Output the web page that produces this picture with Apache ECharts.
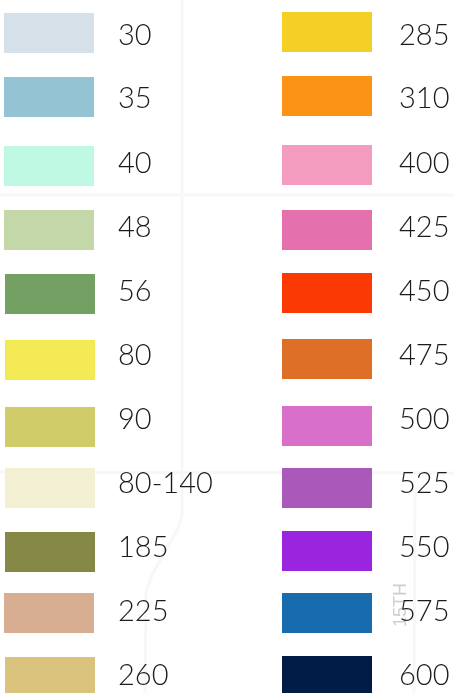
<!DOCTYPE html>
<html>
<head>
<meta charset="utf-8">
<style>html,body{margin:0;padding:0;background:#fff;overflow:hidden}#c{width:454px;height:693px}</style>
<script src="https://cdn.jsdelivr.net/npm/echarts@6/dist/echarts.min.js"></script>
</head>
<body>
<div id="c"></div>
<script>
// Legend categories
var leftLabels = ['30','35','40','48','56','80','90','80-140','185','225','260'];
var rightLabels = ['285','310','400','425','450','475','500','525','550','575','600'];
// Swatch colours
var leftColors = ['#d6e0e8','#94c3d3','#c0f9e3','#c3d7a9','#75a064','#f4ea55','#d1cc6a','#f4f0d3','#868845','#d8ae92','#dac37c'];
var rightColors = ['#f4d026','#fb9316','#f49cbf','#e570ae','#fa3905','#dd6f26','#d86fc9','#aa58ba','#9b25de','#186bac','#001b45'];
// Row positions, on the y axis (0 at the top)
var leftRows = [33,97,166,230,294,360,427,488,552,613,677];
var rightRows = [32,96,165,230,293,359,426,488,551,613,676];
var leftColumn = [49,49,49,49,50,50,50,50,50,49,50];
var rightColumn = 327;
var textRows = [35.5,99,163.5,228,292,356,420,484,548,612,676];
// Faint base-map roads
var roadA = [[0,195],[454,195]];
var roadB = [[0,472],[454,473]];
var roadC = [[182,0],[182,516],[178,528],[152,575],[146,592],[145,693]];
var roadD = [[415,488],[414,693]];

function swatches(rows, colors, xs){
  return rows.map(function(y,i){
    return {value:[Array.isArray(xs)?xs[i]:xs, y], itemStyle:{color:colors[i],opacity:1}};
  });
}
function texts(labels, x){
  return labels.map(function(t,i){
    return {value:[x, textRows[i]], label:{formatter:t}};
  });
}
function road(d){
  return {type:'line',data:d,symbol:'none',silent:true,z:1,
    lineStyle:{color:'#f7f7f7',width:3}};
}
var rectSeries = function(d){
  return {type:'scatter',data:d,symbol:'rect',symbolSize:[90,40],silent:true,z:3,clip:true};
};
var textSeries = function(d){
  return {type:'scatter',data:d,symbolSize:0,silent:true,z:4,itemStyle:{opacity:1},
    label:{show:true,position:'inside',align:'left',verticalAlign:'middle',
      fontFamily:'Lato',fontWeight:300,fontSize:29,color:'#1c1c1c'}};
};
var chart = echarts.init(document.getElementById('c'),null,{renderer:'canvas'});
chart.setOption({
  animation:false,
  backgroundColor:'#ffffff',
  grid:{left:0,right:0,top:0,bottom:0},
  xAxis:{type:'value',min:0,max:454,show:false},
  yAxis:{type:'value',min:0,max:693,inverse:true,show:false},
  series:[
    road(roadA),road(roadB),road(roadC),road(roadD),
    {type:'scatter',data:[{value:[401,605]}],symbolSize:0,silent:true,z:2,itemStyle:{opacity:1},
      label:{show:true,position:'inside',formatter:'15TH',rotate:90,align:'center',verticalAlign:'middle',
        fontFamily:'Liberation Sans',fontSize:18,color:'#cfcfcf'}},
    rectSeries(swatches(leftRows,leftColors,leftColumn)),
    rectSeries(swatches(rightRows,rightColors,rightColumn)),
    textSeries(texts(leftLabels,118)),
    textSeries(texts(rightLabels,399))
  ]
});
</script>
</body>
</html>
